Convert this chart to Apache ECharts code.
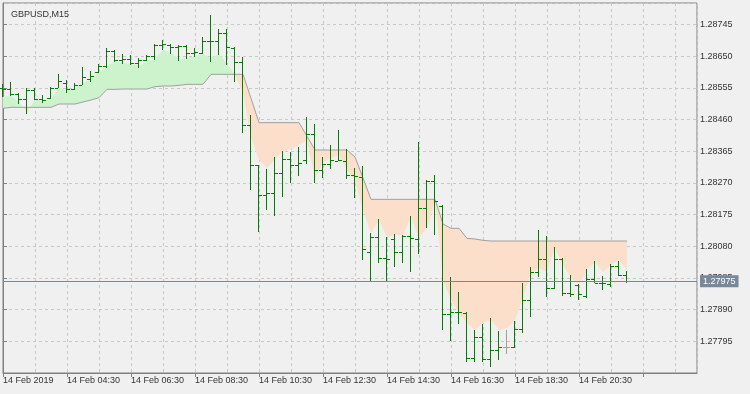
<!DOCTYPE html>
<html><head><meta charset="utf-8">
<script src="https://cdn.jsdelivr.net/npm/echarts@6/dist/echarts.min.js"></script>
<style>html,body{margin:0;padding:0;background:#f0f0f0;}#c{width:750px;height:394px;}</style>
</head><body><div id="c"></div>
<script>
const symbolName = 'GBPUSD,M15';
const timeLabels = ['14 Feb 2019','14 Feb 04:30','14 Feb 06:30','14 Feb 08:30','14 Feb 10:30','14 Feb 12:30','14 Feb 14:30','14 Feb 16:30','14 Feb 18:30','14 Feb 20:30'];
const openP = [1.28555,1.28552,1.28537,1.28522,1.28549,1.28522,1.28525,1.28555,1.28570,1.28552,
1.28564,1.28582,1.28603,1.28621,1.28666,1.28639,1.28642,1.28630,1.28639,1.28651,
1.28684,1.28685,1.28678,1.28681,1.28660,1.28660,1.28696,1.28695,1.28720,1.28676,
1.28633,1.28444,1.28324,1.28234,1.28241,1.28301,1.28341,1.28324,1.28339,1.28417,
1.28309,1.28327,1.28337,1.28337,1.28294,1.28289,1.28064,1.28107,1.28045,1.28101,
1.28062,1.28111,1.28101,1.28194,1.28276,1.28201,1.27877,1.27884,1.27880,1.27745,
1.27809,1.27742,1.27769,1.27777,1.27777,1.27832,1.27919,1.28004,1.28042,1.27956,
1.28042,1.27940,1.27964,1.27932,1.27982,1.27971,1.27967,1.28022,1.27994];
const highP = [1.28567,1.28573,1.28540,1.28554,1.28554,1.28534,1.28557,1.28597,1.28579,1.28571,
1.28619,1.28607,1.28628,1.28676,1.28669,1.28657,1.28654,1.28646,1.28654,1.28688,
1.28700,1.28687,1.28685,1.28685,1.28674,1.28707,1.28774,1.28731,1.28731,1.28678,
1.28648,1.28474,1.28324,1.28311,1.28347,1.28367,1.28364,1.28377,1.28467,1.28447,
1.28349,1.28384,1.28429,1.28371,1.28315,1.28321,1.28119,1.28161,1.28107,1.28116,
1.28114,1.28171,1.28394,1.28279,1.28294,1.28204,1.27989,1.27942,1.27884,1.27829,
1.27846,1.27864,1.27826,1.27829,1.27856,1.27969,1.28019,1.28129,1.28111,1.28079,
1.28044,1.27994,1.27966,1.28012,1.28036,1.27991,1.28026,1.28036,1.28006];
const lowP = [1.28528,1.28531,1.28507,1.28476,1.28519,1.28510,1.28521,1.28554,1.28541,1.28549,
1.28564,1.28574,1.28599,1.28614,1.28633,1.28628,1.28624,1.28616,1.28636,1.28639,
1.28670,1.28657,1.28636,1.28642,1.28648,1.28657,1.28634,1.28654,1.28624,1.28574,
1.28419,1.28249,1.28124,1.28189,1.28171,1.28227,1.28271,1.28291,1.28327,1.28269,
1.28284,1.28311,1.28336,1.28281,1.28224,1.28039,1.27977,1.28031,1.27974,1.28019,
1.28029,1.28004,1.28057,1.28134,1.28114,1.27829,1.27797,1.27847,1.27734,1.27733,
1.27734,1.27719,1.27739,1.27756,1.27776,1.27819,1.27869,1.27989,1.27929,1.27952,
1.27932,1.27929,1.27919,1.27926,1.27969,1.27949,1.27959,1.27992,1.27969];
const closeP = [1.28552,1.28537,1.28522,1.28549,1.28522,1.28519,1.28555,1.28576,1.28552,1.28564,
1.28588,1.28591,1.28622,1.28666,1.28639,1.28642,1.28630,1.28639,1.28651,1.28685,
1.28687,1.28678,1.28681,1.28660,1.28662,1.28697,1.28695,1.28720,1.28678,1.28633,
1.28444,1.28324,1.28234,1.28241,1.28301,1.28341,1.28324,1.28329,1.28417,1.28309,
1.28327,1.28339,1.28340,1.28294,1.28291,1.28072,1.28107,1.28044,1.28042,1.28062,
1.28111,1.28104,1.28194,1.28276,1.28217,1.27877,1.27884,1.27883,1.27744,1.27809,
1.27742,1.27769,1.27779,1.27777,1.27832,1.27919,1.28004,1.28042,1.27956,1.28042,
1.27939,1.27937,1.27936,1.27982,1.27971,1.27969,1.28022,1.27994,1.27975];
const stopLine = [1.28494,1.28497,1.28497,1.28497,1.28497,1.28497,1.28497,1.28507,1.28507,1.28507,
1.28513,1.28519,1.28526,1.28551,1.28551,1.28552,1.28552,1.28552,1.28552,1.28559,
1.28561,1.28561,1.28563,1.28566,1.28566,1.28566,1.28596,1.28596,1.28596,1.28596,
1.28596,1.28524,1.28451,1.28451,1.28451,1.28451,1.28451,1.28451,1.28410,1.28369,
1.28369,1.28369,1.28369,1.28369,1.28348,1.28285,1.28221,1.28221,1.28221,1.28221,
1.28221,1.28221,1.28221,1.28221,1.28221,1.28147,1.28134,1.28134,1.28104,1.28102,
1.28098,1.28096,1.28096,1.28096,1.28096,1.28096,1.28096,1.28096,1.28096,1.28096,
1.28096,1.28096,1.28096,1.28096,1.28096,1.28096,1.28096,1.28096,1.28096];
const fillEdge = [1.28529,1.28531,1.28513,1.28480,1.28522,1.28516,1.28521,1.28556,1.28547,1.28555,
1.28569,1.28582,1.28602,1.28621,1.28634,1.28630,1.28627,1.28621,1.28636,1.28642,
1.28670,1.28660,1.28641,1.28645,1.28651,1.28658,1.28645,1.28658,1.28627,1.28594,
1.28540,1.28408,1.28339,1.28315,1.28342,1.28366,1.28372,1.28384,1.28399,1.28282,
1.28333,1.28345,1.28354,1.28309,1.28279,1.28189,1.28120,1.28159,1.28108,1.28114,
1.28114,1.28168,1.28105,1.28135,1.28216,1.27979,1.27919,1.27880,1.27850,1.27829,
1.27850,1.27859,1.27829,1.27835,1.27859,1.27928,1.28000,1.28015,1.28003,1.28075,
1.28024,1.27985,1.27967,1.28009,1.28033,1.28003,1.28024,1.28039,1.28009];
const lastPrice = 1.27975;
const yMin = 1.27700, yMax = 1.28810, yStep = 0.00095;

const FONT = "'Liberation Sans', Arial, sans-serif";
const GREEN_FILL = '#ccf3cc', PEACH_FILL = '#fcdfca';

function buildRuns(){
  const runs = []; let cur = null;
  for (let i = 0; i < fillEdge.length; i++) {
    const d = fillEdge[i] - stopLine[i];
    const s = d >= 0 ? 1 : -1;
    if (!cur) { cur = {s, edge: [[i, fillEdge[i]]], line: [[i, stopLine[i]]]}; continue; }
    if (s !== cur.s) {
      const dp = fillEdge[i-1] - stopLine[i-1];
      const t = dp / (dp - d);
      const xk = i - 1 + t;
      const yk = stopLine[i-1] + t * (stopLine[i] - stopLine[i-1]);
      cur.edge.push([xk, yk]); cur.line.push([xk, yk]); runs.push(cur);
      cur = {s, edge: [[xk, yk], [i, fillEdge[i]]], line: [[xk, yk], [i, stopLine[i]]]};
    } else {
      cur.edge.push([i, fillEdge[i]]); cur.line.push([i, stopLine[i]]);
    }
  }
  runs.push(cur);
  return runs;
}
const runs = buildRuns();

const barData = openP.map((o, k) => [k, o, highP[k], lowP[k], closeP[k]]);
const lineData = stopLine.map((v, k) => [k, v]);

const chart = echarts.init(document.getElementById('c'));
chart.setOption({
  animation: false,
  backgroundColor: '#f0f0f0',
  title: { text: symbolName, left: 6, top: 5, textStyle: { fontSize: 9, fontWeight: 'normal', color: '#333', fontFamily: FONT } },
  grid: { left: 3, right: 53, top: 3, bottom: 21, show: true, borderColor: '#808080', borderWidth: 1, backgroundColor: 'transparent' },
  xAxis: [
    { type: 'value', min: 0, max: 86.75, interval: 4, position: 'bottom',
      axisLine: { show: false }, axisTick: { show: false }, axisLabel: { show: false },
      splitLine: { show: true, lineStyle: { color: '#c8c8c8', type: [3, 3], width: 1 } } },
    { type: 'value', min: 0, max: 86.75, interval: 8, position: 'bottom',
      axisLine: { show: true, lineStyle: { color: '#808080' } },
      axisTick: { show: true, length: 4, lineStyle: { color: '#808080' } },
      splitLine: { show: false },
      axisLabel: { show: true, align: 'left', margin: 3, fontSize: 9, color: '#333', fontFamily: FONT,
        showMaxLabel: false,
        formatter: v => (Math.abs(v % 8) < 1e-6 && timeLabels[Math.round(v / 8)]) || '' } }
  ],
  yAxis: {
    type: 'value', position: 'right', min: yMin, max: yMax, interval: yStep,
    axisLine: { show: true, lineStyle: { color: '#808080' } },
    axisTick: { show: true, length: 4, lineStyle: { color: '#808080' } },
    axisLabel: { fontSize: 9, color: '#333', margin: 3, fontFamily: FONT, showMinLabel: false, showMaxLabel: false,
      formatter: v => v.toFixed(5) },
    splitLine: { show: true, lineStyle: { color: '#c8c8c8', type: [3, 3], width: 1 } }
  },
  series: [
    { type: 'custom', xAxisIndex: 0, z: 1, silent: true,
      data: [[0, stopLine[0]]],
      renderItem: (params, api) => ({
        type: 'group',
        children: runs.map(r => {
          const pts = r.edge.map(p => api.coord(p)).concat(r.line.slice().reverse().map(p => api.coord(p)));
          return { type: 'polygon', shape: { points: pts }, style: { fill: r.s > 0 ? GREEN_FILL : PEACH_FILL, stroke: null } };
        })
      })
    },
    { type: 'line', xAxisIndex: 0, z: 2, data: lineData, showSymbol: false, symbol: 'none', silent: true,
      lineStyle: { color: '#a0a0a0', width: 1 },
      markLine: { silent: true, symbol: ['none', 'none'], animation: false, precision: 5,
        data: [{ yAxis: lastPrice }],
        lineStyle: { color: '#778899', width: 1, type: 'solid' },
        label: { position: 'end', distance: 3, formatter: () => lastPrice.toFixed(5), backgroundColor: '#778899',
          color: '#ffffff', padding: [2, 3, 1, 3], fontSize: 9, fontFamily: FONT } } },
    { type: 'custom', xAxisIndex: 0, z: 3, silent: true, data: barData,
      renderItem: (params, api) => {
        const k = api.value(0);
        const x = Math.round(api.coord([k, api.value(2)])[0]);
        const yO = Math.round(api.coord([k, api.value(1)])[1]);
        const yH = Math.round(api.coord([k, api.value(2)])[1]);
        const yL = Math.round(api.coord([k, api.value(3)])[1]);
        const yC = Math.round(api.coord([k, api.value(4)])[1]);
        const col = api.value(1) === api.value(4) ? '#a0a0a0' : '#008000';
        return { type: 'group', children: [
          { type: 'rect', shape: { x: x - 1, y: yH, width: 1, height: Math.max(1, yL - yH) }, style: { fill: col } },
          { type: 'rect', shape: { x: x - 4, y: yO, width: 3, height: 1 }, style: { fill: col } },
          { type: 'rect', shape: { x: x, y: yC, width: 3, height: 1 }, style: { fill: col } }
        ]};
      }
    }
  ]
});
</script></body></html>
